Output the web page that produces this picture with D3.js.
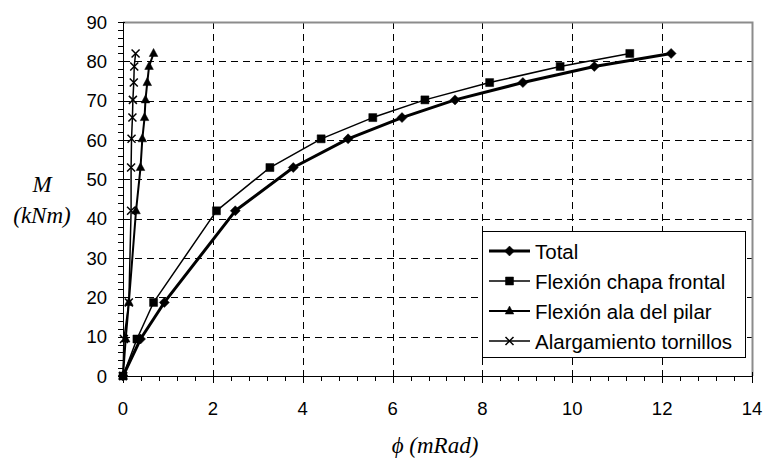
<!DOCTYPE html>
<html lang="es">
<head>
<meta charset="UTF-8">
<title>Momento - rotación</title>
<script src="https://d3js.org/d3.v7.min.js"></script>
<style>
  body { margin: 0; background: #fff; }
  svg { display: block; }
  .tick-label { font-family: "Liberation Sans", Arial, sans-serif; font-size: 18.5px; fill: #000; }
  .axis-title { font-family: "Liberation Serif", "Times New Roman", serif; font-style: italic; font-size: 23px; fill: #000; }
  .legend-text { font-family: "Liberation Sans", Arial, sans-serif; font-size: 20.5px; fill: #000; }
</style>
</head>
<body>
<svg width="765" height="459"></svg>
<script>
// momento aplicado (kNm), mismo para todas las series
const momento = [0, 9.4, 18.7, 42, 53, 60.3, 65.7, 70.2, 74.6, 78.7, 82];

// giros (mRad)
const giroTotal   = [0, 0.39, 0.92, 2.5, 3.79, 5.01, 6.21, 7.39, 8.9, 10.49, 12.2];
const giroChapa   = [0, 0.31, 0.68, 2.08, 3.27, 4.41, 5.56, 6.72, 8.16, 9.73, 11.28];
const giroAla     = [0, 0.06, 0.13, 0.29, 0.39, 0.43, 0.48, 0.5, 0.54, 0.58, 0.68];
const giroTorn    = [0, 0.02, 0.13, 0.18, 0.18, 0.19, 0.21, 0.22, 0.24, 0.25, 0.28];

const seriesNames = ["Total", "Flexión chapa frontal", "Flexión ala del pilar", "Alargamiento tornillos"];
const xTicks = [0, 2, 4, 6, 8, 10, 12, 14];
const yTicks = [0, 10, 20, 30, 40, 50, 60, 70, 80, 90];

const series = [
  { name: seriesNames[0], x: giroTotal, marker: "diamond", width: 3 },
  { name: seriesNames[1], x: giroChapa, marker: "square", width: 1.5 },
  { name: seriesNames[2], x: giroAla, marker: "triangle", width: 2 },
  { name: seriesNames[3], x: giroTorn, marker: "cross", width: 1.5 }
];

const svg = d3.select("svg");
const m = { left: 123, right: 752, top: 22, bottom: 376 };

const x = d3.scaleLinear().domain([0, 14]).range([m.left, m.right]);
const y = d3.scaleLinear().domain([0, 90]).range([m.bottom, m.top]);

// grid
const grid = svg.append("g").attr("stroke", "#000").attr("stroke-width", 1)
  .attr("stroke-dasharray", "7,5").attr("shape-rendering", "crispEdges");
grid.selectAll(".hg").data(yTicks.filter(d => d > 0 && d < 90)).enter().append("line")
  .attr("x1", m.left).attr("x2", m.right)
  .attr("y1", d => Math.round(y(d)) + 0.5).attr("y2", d => Math.round(y(d)) + 0.5);
grid.selectAll(".vg").data(xTicks.filter(d => d > 0 && d < 14)).enter().append("line")
  .attr("y1", m.top).attr("y2", m.bottom)
  .attr("x1", d => Math.round(x(d)) + 0.5).attr("x2", d => Math.round(x(d)) + 0.5);

// top / right border (grey)
svg.append("path")
  .attr("d", `M${m.left},${m.top + 0.5}H${m.right + 0.5}V${m.bottom}`)
  .attr("fill", "none").attr("stroke", "#8c8c8c").attr("stroke-width", 2);

// axes
const ax = svg.append("g").attr("stroke", "#000").attr("stroke-width", 1).attr("shape-rendering", "crispEdges");
ax.append("line").attr("x1", m.left + 0.5).attr("x2", m.left + 0.5).attr("y1", m.top).attr("y2", m.bottom);
ax.append("line").attr("x1", m.left).attr("x2", m.right + 1).attr("y1", m.bottom + 0.5).attr("y2", m.bottom + 0.5);

const yMinor = d3.range(0, 90.1, 2);
ax.selectAll(".ymt").data(yMinor).enter().append("line")
  .attr("x1", d => m.left - 5).attr("x2", d => yTicks.includes(d) ? m.left + 2 : m.left)
  .attr("y1", d => Math.round(y(d)) + 0.5).attr("y2", d => Math.round(y(d)) + 0.5);

const xMinor = d3.range(0, 14.01, 0.4);
ax.selectAll(".xmt").data(xMinor).enter().append("line")
  .attr("x1", d => Math.round(x(d)) + 0.5).attr("x2", d => Math.round(x(d)) + 0.5)
  .attr("y1", d => xTicks.some(t => Math.abs(t - d) < 1e-6) ? m.bottom - 4 : m.bottom)
  .attr("y2", d => xTicks.some(t => Math.abs(t - d) < 1e-6) ? m.bottom + 7 : m.bottom + 5);

svg.selectAll(".ylab").data(yTicks).enter().append("text")
  .attr("class", "tick-label").attr("text-anchor", "end")
  .attr("x", m.left - 16).attr("y", d => y(d) + 6.5).text(d => d);

svg.selectAll(".xlab").data(xTicks).enter().append("text")
  .attr("class", "tick-label").attr("text-anchor", "middle")
  .attr("x", d => x(d)).attr("y", 415).text(d => d);

// axis titles
svg.append("text").attr("class", "axis-title").attr("text-anchor", "middle")
  .attr("x", 42).attr("y", 192).text("M");
svg.append("text").attr("class", "axis-title").attr("text-anchor", "middle")
  .attr("x", 42).attr("y", 223).text("(kNm)");
svg.append("text").attr("class", "axis-title").attr("text-anchor", "middle")
  .attr("x", 435).attr("y", 453).text("ϕ (mRad)");

// markers
function markerPath(type) {
  if (type === "diamond") return "M0,-5L5,0L0,5L-5,0Z";
  if (type === "square") return "M-4,-4H4V4H-4Z";
  if (type === "triangle") return "M0,-5L4.3,3L-4.3,3Z";
  return "M-4,-4L4,4M-4,4L4,-4";
}

const line = d3.line().x(d => x(d[0])).y(d => y(d[1]));

series.forEach(s => {
  const pts = s.x.map((v, i) => [v, momento[i]]);
  const g = svg.append("g");
  g.append("path").datum(pts).attr("d", line)
    .attr("fill", "none").attr("stroke", "#000").attr("stroke-width", s.width)
    .attr("stroke-linejoin", "round");
  g.selectAll("path.mk").data(pts).enter().append("path")
    .attr("class", "mk")
    .attr("transform", d => `translate(${x(d[0])},${y(d[1])})`)
    .attr("d", markerPath(s.marker))
    .attr("fill", s.marker === "cross" ? "none" : "#000")
    .attr("stroke", "#000").attr("stroke-width", s.marker === "cross" ? 1.5 : 0.5);
});

// legend
const lg = svg.append("g");
lg.append("rect").attr("x", 482.5).attr("y", 231.5).attr("width", 263).attr("height", 126)
  .attr("fill", "#fff").attr("stroke", "#000").attr("stroke-width", 1);
const rows = lg.selectAll(".row").data(series).enter().append("g")
  .attr("transform", (d, i) => `translate(0,${251 + i * 30})`);
rows.append("line").attr("x1", 489).attr("x2", 530).attr("y1", 0).attr("y2", 0)
  .attr("stroke", "#000").attr("stroke-width", d => d.width);
rows.append("path").attr("transform", "translate(509.5,0)")
  .attr("d", d => markerPath(d.marker))
  .attr("fill", d => d.marker === "cross" ? "none" : "#000")
  .attr("stroke", "#000").attr("stroke-width", d => d.marker === "cross" ? 1.5 : 0.5);
rows.append("text").attr("class", "legend-text").attr("x", 535).attr("y", 7.5).text(d => d.name);
</script>
</body>
</html>
